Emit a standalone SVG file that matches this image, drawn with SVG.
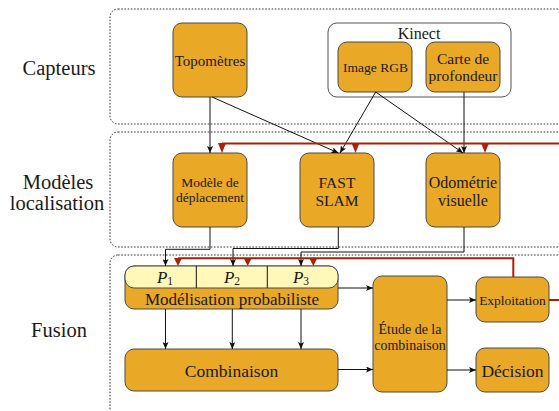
<svg xmlns="http://www.w3.org/2000/svg" width="559" height="411" viewBox="0 0 559 411" font-family="'Liberation Serif', 'DejaVu Serif', serif">
<style>
text{font-family:'Liberation Serif','DejaVu Serif',serif;fill:#1a1a1a;text-anchor:middle;dominant-baseline:central}
.frame{fill:none;stroke:#333;stroke-width:1;stroke-dasharray:1.6 1.6}
.node{fill:#E9A826;stroke:#4a4a4a;stroke-width:1}
.yel{fill:#FFF8B8;stroke:#4a4a4a;stroke-width:1}
.kin{fill:#fff;stroke:#555;stroke-width:1}
.con{fill:none;stroke:#111;stroke-width:1;marker-end:url(#ah)}
.red{fill:none;stroke:#A82208;stroke-width:2}
.rah{fill:#A82208}
.lbl{font-size:20.5px}
</style>
<defs>
<marker id="ah" viewBox="0 0 7 6" refX="7" refY="3" markerWidth="7" markerHeight="6" orient="auto" markerUnits="userSpaceOnUse">
<path d="M0,0 L7,3 L0,6 L1.5,3 Z" fill="#111"/>
</marker>
</defs>
<g id="frames">
<rect class="frame" x="110" y="9" width="470" height="115" rx="8"/>
<rect class="frame" x="110" y="132" width="470" height="115" rx="8"/>
<rect class="frame" x="110" y="255" width="470" height="162" rx="8"/>
</g>
<g id="layer-labels">
<text class="lbl" x="59" y="68">Capteurs</text>
<text class="lbl" x="58" y="182">Modèles</text>
<text class="lbl" x="57" y="203">localisation</text>
<text class="lbl" x="59" y="330">Fusion</text>
</g>
<g id="kinect">
<rect class="kin" x="328" y="23" width="183" height="74" rx="9"/>
<text x="419" y="33" font-size="16">Kinect</text>
</g>
<g id="topometres">
<rect class="node" x="173" y="23" width="74" height="74" rx="9"/>
<text x="210" y="61" font-size="15">Topomètres</text>
</g>
<g id="image-rgb">
<rect class="node" x="338" y="42" width="74" height="50" rx="9"/>
<text x="375.5" y="67" font-size="13.5">Image RGB</text>
</g>
<g id="carte">
<rect class="node" x="426" y="42" width="74" height="50" rx="9"/>
<text x="463" y="58" font-size="15.5">Carte de</text>
<text x="463" y="75" font-size="15.5">profondeur</text>
</g>
<g id="modele-deplacement">
<rect class="node" x="173" y="153" width="74" height="74" rx="9"/>
<text x="210" y="182" font-size="13.5">Modèle de</text>
<text x="210" y="197.5" font-size="13.5">déplacement</text>
</g>
<g id="fast-slam">
<rect class="node" x="300" y="153" width="74" height="74" rx="9"/>
<text x="337" y="182" font-size="15.5">FAST</text>
<text x="337" y="200" font-size="15.5">SLAM</text>
</g>
<g id="odometrie">
<rect class="node" x="426" y="153" width="74" height="74" rx="9"/>
<text x="463" y="182" font-size="16">Odométrie</text>
<text x="463" y="200" font-size="16">visuelle</text>
</g>
<g id="modelisation">
<rect class="node" x="125" y="266" width="213" height="43" rx="9"/>
<rect class="yel" x="125" y="266" width="213" height="22" rx="9"/>
<line x1="196.3" y1="266" x2="196.3" y2="288" stroke="#111" stroke-width="1"/>
<line x1="267.3" y1="266" x2="267.3" y2="288" stroke="#111" stroke-width="1"/>
<text x="165" y="277" font-size="17" font-style="italic">P<tspan font-size="11.5" font-style="normal" dy="4">1</tspan></text>
<text x="232" y="277" font-size="17" font-style="italic">P<tspan font-size="11.5" font-style="normal" dy="4">2</tspan></text>
<text x="301" y="277" font-size="17" font-style="italic">P<tspan font-size="11.5" font-style="normal" dy="4">3</tspan></text>
<text x="232" y="299.5" font-size="17">Modélisation probabiliste</text>
</g>
<g id="combinaison">
<rect class="node" x="125" y="349" width="213" height="42" rx="9"/>
<text x="231.5" y="370.5" font-size="17.5">Combinaison</text>
</g>
<g id="etude">
<rect class="node" x="373" y="276" width="74" height="116" rx="9"/>
<text x="410" y="329.5" font-size="14">Étude de la</text>
<text x="410" y="345" font-size="14">combinaison</text>
</g>
<g id="exploitation">
<rect class="node" x="476" y="277" width="73" height="45" rx="9"/>
<text x="512.5" y="300" font-size="13.5">Exploitation</text>
</g>
<g id="decision">
<rect class="node" x="476" y="348" width="73" height="44" rx="9"/>
<text x="512.5" y="371" font-size="17.5">Décision</text>
</g>
<g id="connectors">
<path class="con" d="M210,97 V153"/>
<path class="con" d="M212,97 L338.5,153"/>
<path class="con" d="M375.7,92 L340,153"/>
<path class="con" d="M375.7,92 L463,153"/>
<path class="con" d="M464,92 V153"/>
<path class="con" d="M210,227 V249.3 H165.5 V266"/>
<path class="con" d="M338.3,227 V248.5 H233 V266"/>
<path class="con" d="M464,227 V252 H301 V266"/>
<path class="con" d="M165.5,309 V349"/>
<path class="con" d="M232.3,309 V349"/>
<path class="con" d="M301,309 V349"/>
<path class="con" d="M338,288 H373"/>
<path class="con" d="M338,369.5 H373"/>
<path class="con" d="M447,300 H476"/>
<path class="con" d="M447,370 H476"/>
<path class="red" d="M549,300 H566 V143.5 H222"/>
<path class="red" d="M513.3,277 V258.3 H178"/>
<path class="rah" d="M218,143 H226 L222,153 Z"/>
<path class="rah" d="M351.5,143 H359.5 L355.5,153 Z"/>
<path class="rah" d="M481,143 H489 L485,153 Z"/>
<path class="rah" d="M174,258 H182 L178,266 Z"/>
<path class="rah" d="M243.7,258 H251.7 L247.7,266 Z"/>
<path class="rah" d="M309.3,258 H317.3 L313.3,266 Z"/>
</g>
</svg>
